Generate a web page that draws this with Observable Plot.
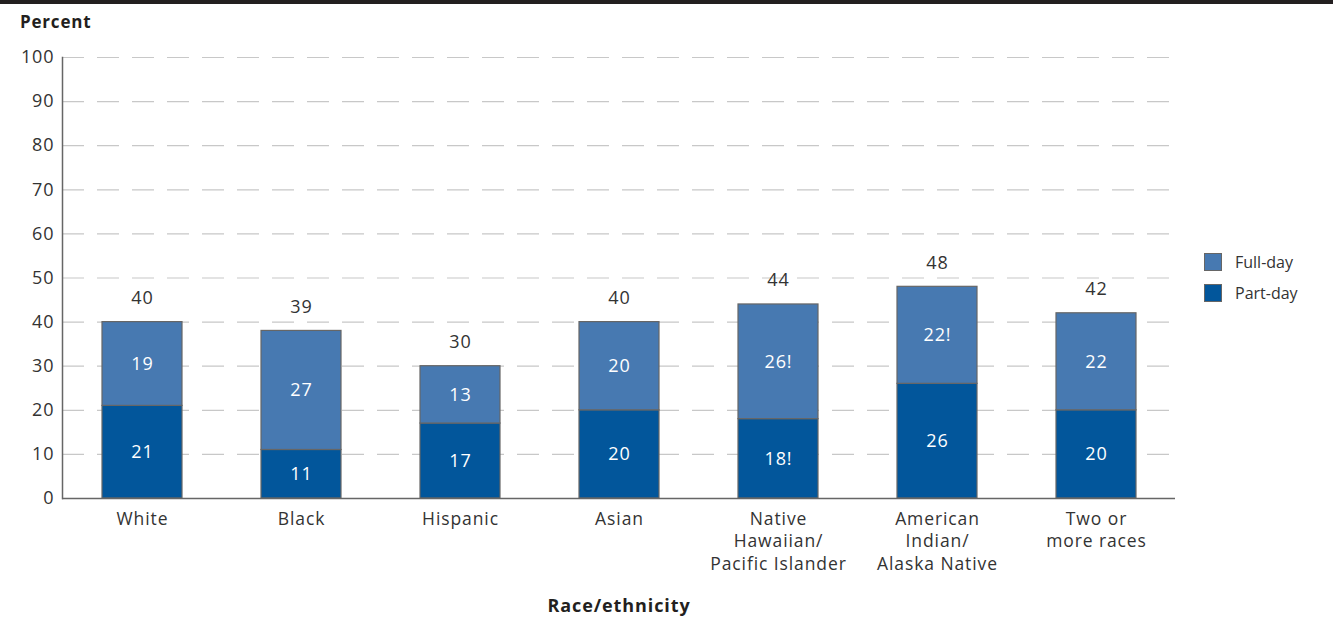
<!DOCTYPE html>
<html>
<head>
<meta charset="utf-8">
<script src="https://cdn.jsdelivr.net/npm/d3@7"></script>
<script src="https://cdn.jsdelivr.net/npm/@observablehq/plot@0.6"></script>
<style>
  body { margin: 0; background: #fff; font-family: "Open Sans", sans-serif; color: #231f20; }
  #wrap { position: relative; width: 1333px; height: 620px; overflow: hidden; }
  #topbar { position: absolute; left: 0; top: 0; width: 1333px; height: 4px; background: #231f20; }
  #ylab { position: absolute; left: 20px; top: 10px; font-size: 17px; font-weight: bold; letter-spacing: 0.8px; }
  #xlab { position: absolute; left: 469px; width: 300px; text-align: center; top: 593px; font-size: 18px; font-weight: bold; letter-spacing: 0.9px; }
  #chart { position: absolute; left: 0; top: 0; }
  #chart svg text { letter-spacing: 0.9px; }
  .leg { position: absolute; left: 1204px; font-size: 16px; display: flex; align-items: center; color: #333; }
  .sw { width: 18px; height: 18px; box-sizing: border-box; border: 1px solid #666; margin-right: 13px; }
</style>
</head>
<body>
<div id="wrap">
  <div id="chart"></div>
  <div id="topbar"></div>
  <div id="ylab">Percent</div>
  <div id="xlab">Race/ethnicity</div>
  <div class="leg" style="top:251px"><div class="sw" style="background:#4779b1"></div>Full-day</div>
  <div class="leg" style="top:282px"><div class="sw" style="background:#02569b"></div>Part-day</div>
</div>
<script>
const categories = ["White", "Black", "Hispanic", "Asian", "Native Hawaiian/Pacific Islander", "American Indian/Alaska Native", "Two or more races"];
const categoryLabels = ["White", "Black", "Hispanic", "Asian", "Native\nHawaiian/\nPacific Islander", "American\nIndian/\nAlaska Native", "Two or\nmore races"];
const partDay = [21, 11, 17, 20, 18, 26, 20];
const fullDay = [19, 27, 13, 20, 26, 22, 22];
const partLabels = ["21", "11", "17", "20", "18!", "26", "20"];
const fullLabels = ["19", "27", "13", "20", "26!", "22!", "22"];
const totals = [40, 39, 30, 40, 44, 48, 42];
const series = ["Full-day", "Part-day"];
const seriesColors = ["#4779b1", "#02569b"];
const yTicks = [0, 10, 20, 30, 40, 50, 60, 70, 80, 90, 100];

const rows = [];
categories.forEach((c, i) => rows.push({cat: c, series: "Part-day", value: partDay[i], label: partLabels[i]}));
categories.forEach((c, i) => rows.push({cat: c, series: "Full-day", value: fullDay[i], label: fullLabels[i]}));
const totalRows = categories.map((c, i) => ({cat: c, top: partDay[i] + fullDay[i], total: totals[i]}));
const labelMap = new Map(categories.map((c, i) => [c, categoryLabels[i]]));

const chart = Plot.plot({
  width: 1333,
  height: 620,
  marginTop: 57,
  marginBottom: 122,
  marginLeft: 62,
  marginRight: 158,
  style: {fontFamily: "Open Sans, sans-serif", color: "#333", background: "transparent"},
  x: {domain: categories, paddingInner: 0.5, paddingOuter: 0.25},
  y: {domain: [0, 100]},
  color: {domain: series, range: seriesColors},
  marks: [
    Plot.gridY(yTicks.filter(d => d > 0), {stroke: "#c8c8c8", strokeOpacity: 1, strokeWidth: 1.2, strokeDasharray: "22,13"}),
    Plot.barY(rows, {x: "cat", y: "value", fill: "series", stroke: "#666", strokeWidth: 1.2}),
    Plot.text(rows, Plot.stackY({x: "cat", y: "value", text: "label", fill: "white", fontSize: 18})),
    Plot.text(totalRows, {x: "cat", y: "top", text: "total", dy: -24, fontSize: 18, fill: "#333"}),
    Plot.ruleY([0], {stroke: "#666", strokeWidth: 1.5}),
    Plot.frame({anchor: "left", stroke: "#666", strokeWidth: 1.5}),
    Plot.axisY(yTicks, {tickSize: 0, tickPadding: 8, fontSize: 18, label: null, fill: "#333"}),
    Plot.axisX({tickSize: 0, tickPadding: 10, fontSize: 17.5, lineHeight: 1.3, label: null, tickFormat: d => labelMap.get(d), fill: "#333"})
  ]
});
document.getElementById("chart").appendChild(chart);
</script>
</body>
</html>
